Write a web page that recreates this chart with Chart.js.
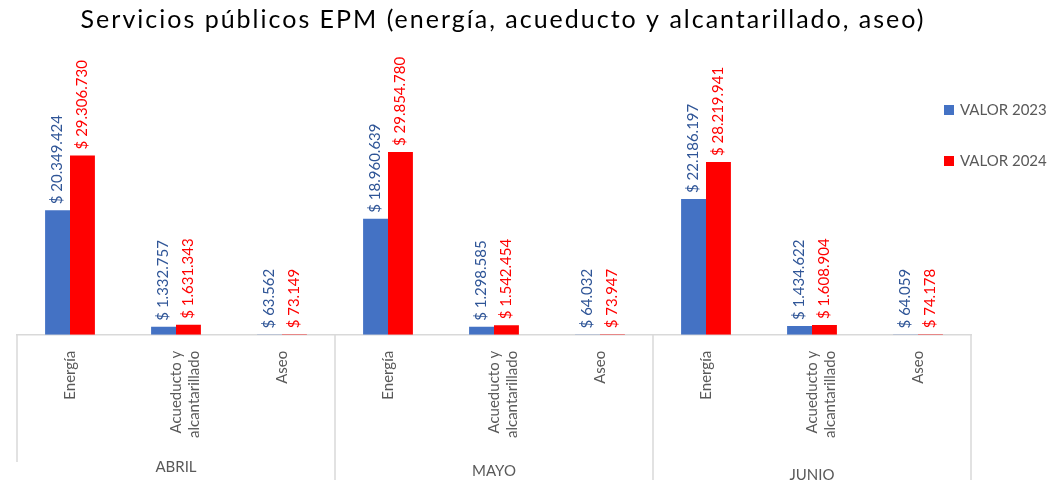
<!DOCTYPE html>
<html lang="es">
<head>
<meta charset="utf-8">
<title>Servicios públicos EPM</title>
<script src="https://cdn.jsdelivr.net/npm/chart.js@4"></script>
<style>
    body { margin: 0; background: #ffffff; }
    #wrap { width: 1063px; height: 485px; position: relative; }
</style>
</head>
<body>
<div id="wrap"><canvas id="epmChart"></canvas></div>
<script>
// Data
const months = ['ABRIL', 'MAYO', 'JUNIO'];
const services = ['Energía', ['Acueducto y', 'alcantarillado'], 'Aseo'];
const valor2023 = [20349424, 1332757, 63562, 18960639, 1298585, 64032, 22186197, 1434622, 64059];
const valor2024 = [29306730, 1631343, 73149, 29854780, 1542454, 73947, 28219941, 1608904, 74178];
const seriesNames = ['VALOR 2023', 'VALOR 2024'];
const chartTitle = 'Servicios públicos EPM (energía, acueducto y alcantarillado, aseo)';
const yMax = 47500000;

// Style
const BLUE = '#4472C4';
const RED = '#FF0000';
const GREY_TEXT = '#595959';
const LINE = '#d9d9d9';
const FONT = 'Lato, "Open Sans", sans-serif';

// one label per bar: service name, repeated for every month
const labels = [];
months.forEach(() => services.forEach(s => labels.push(s)));

function money(n) {
    return '$ ' + String(n).replace(/\B(?=(\d{3})+(?!\d))/g, '.');
}

// values written vertically above each bar
const barValueLabels = {
    id: 'barValueLabels',
    afterDatasetsDraw(chart) {
        const ctx = chart.ctx;
        const colors = ['#2F5597', RED];
        chart.data.datasets.forEach((ds, di) => {
            const meta = chart.getDatasetMeta(di);
            meta.data.forEach((bar, i) => {
                ctx.save();
                ctx.translate(bar.x, bar.y - 6);
                ctx.rotate(-Math.PI / 2);
                ctx.font = '15px ' + FONT;
                ctx.fillStyle = colors[di];
                ctx.textAlign = 'left';
                ctx.textBaseline = 'middle';
                ctx.fillText(money(ds.data[i]), 0, 0);
                ctx.restore();
            });
        });
    }
};

// title (spaced out like the original), month row, group separators, legend
const decorations = {
    id: 'decorations',
    afterDraw(chart) {
        const ctx = chart.ctx;
        const x = chart.scales.x;
        const area = chart.chartArea;
        const step = x.getPixelForValue(1) - x.getPixelForValue(0);
        const per = services.length;

        ctx.save();
        ctx.font = '25px ' + FONT;
        ctx.fillStyle = '#000000';
        ctx.textAlign = 'center';
        ctx.textBaseline = 'alphabetic';
        ctx.letterSpacing = '2px';
        ctx.fillText(chartTitle, 503, 28);
        ctx.letterSpacing = '0px';

        ctx.strokeStyle = LINE;
        ctx.lineWidth = 1.5;
        for (let g = 0; g <= months.length; g++) {
            const px = x.getPixelForValue(g * per) - step / 2;
            ctx.beginPath();
            ctx.moveTo(px, area.bottom);
            ctx.lineTo(px, g === 0 ? 462 : 480);
            ctx.stroke();
        }

        ctx.font = '15px ' + FONT;
        ctx.fillStyle = GREY_TEXT;
        ctx.textBaseline = 'middle';
        months.forEach((m, g) => {
            const mid = x.getPixelForValue(g * per + (per - 1) / 2);
            ctx.fillText(m, mid, 467 + g * 4);
        });

        // legend
        const legendY = [110, 161];
        chart.data.datasets.forEach((ds, di) => {
            ctx.fillStyle = ds.backgroundColor;
            ctx.fillRect(944, legendY[di] - 5, 10, 10);
            ctx.fillStyle = GREY_TEXT;
            ctx.textAlign = 'left';
            ctx.fillText(ds.label, 960, legendY[di]);
        });
        ctx.restore();
    }
};

new Chart(document.getElementById('epmChart'), {
    type: 'bar',
    data: {
        labels: labels,
        datasets: [
            { label: seriesNames[0], data: valor2023, backgroundColor: BLUE },
            { label: seriesNames[1], data: valor2024, backgroundColor: RED }
        ]
    },
    options: {
        responsive: true,
        maintainAspectRatio: false,
        animation: false,
        layout: { padding: { left: 17, right: 92, bottom: 39, top: 44 } },
        datasets: {
            bar: { categoryPercentage: 0.47, barPercentage: 1.0 }
        },
        plugins: {
            legend: { display: false },
            tooltip: { enabled: false },
            title: { display: false }
        },
        scales: {
            x: {
                grid: { display: false },
                border: { display: true, color: LINE, width: 1.5 },
                ticks: {
                    color: GREY_TEXT,
                    font: { family: FONT, size: 15 },
                    maxRotation: 90,
                    minRotation: 90,
                    padding: 8,
                    autoSkip: false
                }
            },
            y: {
                display: false,
                min: 0,
                max: yMax
            }
        }
    },
    plugins: [barValueLabels, decorations]
});
</script>
</body>
</html>
